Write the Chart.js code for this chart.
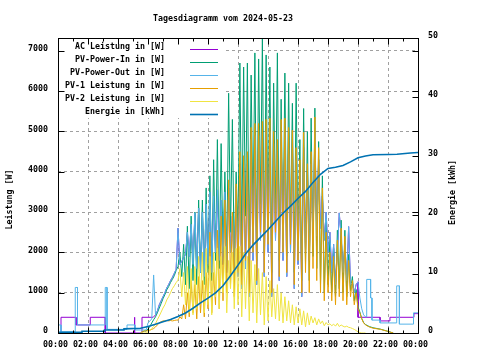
<!DOCTYPE html>
<html><head><meta charset="utf-8">
<script src="https://cdn.jsdelivr.net/npm/chart.js@4.4.1/dist/chart.umd.min.js"></script>
<style>html,body{margin:0;padding:0;background:#fff;}</style>
</head><body>
<canvas id="c" width="480" height="360"></canvas>
<script>
// ---------- text ----------
const TITLE = 'Tagesdiagramm vom 2024-05-23';
const Y_TITLE = 'Leistung [W]';
const Y2_TITLE = 'Energie [kWh]';
const seriesNames = ['AC Leistung in [W]', 'PV-Power-In in [W]', 'PV-Power-Out in [W]',
                     'PV-1 Leistung in [W]', 'PV-2 Leistung in [W]', 'Energie in [kWh]'];

// ---------- ticks ----------
const xTickValues = [0,2,4,6,8,10,12,14,16,18,20,22,24];
const xTickLabels = ['00:00','02:00','04:00','06:00','08:00','10:00','12:00','14:00','16:00','18:00','20:00','22:00','00:00'];
const yTickValues = [0,1000,2000,3000,4000,5000,6000,7000];
const y2TickValues = [0,10,20,30,40,50];
const Y_MAX = 7320, Y2_MAX = 50;

// ---------- daytime samples: 05:30 .. 20:30, every 7.5 min ----------
const DAY_START = 5.5, DAY_STEP = 0.125;
const pv2Day = [ // PV-2 Leistung [W]
  0,0,0,0,30,60,110,160,230,330,
  420,520,620,700,820,900,1000,1100,1170,1250,
  1310,1600,900,1500,700,1650,500,1600,450,1650,
  600,1900,800,2000,500,2100,700,1900,450,2000,
  900,2100,600,1900,1000,2150,500,1800,1100,2000,
  600,2100,700,2150,400,2000,600,1900,300,1800,
  500,1700,250,1600,450,1500,200,1400,300,1300,
  400,1100,350,1200,300,1000,250,900,300,800,
  250,700,200,650,250,600,200,550,150,500,
  200,420,250,380,200,350,230,300,180,260,
  200,230,180,220,170,240,160,200,170,150,
  170,140,130,110,90,60,30,10,0,0,0];
const pv1Day = [ // PV-1 Leistung [W]
  0,30,50,50,60,70,90,110,150,200,
  250,280,300,300,310,300,310,300,310,320,
  320,400,350,700,350,1000,400,1300,500,1200,
  350,1400,500,1300,400,1500,600,2500,500,1500,
  700,2550,600,2900,800,3300,1000,3800,1200,3000,
  900,3700,1500,4500,1200,4400,1800,4500,1000,5100,
  2000,5200,1300,5200,2500,5250,1500,5300,2200,5330,
  1000,5000,2500,4800,1400,5300,2000,5330,1500,5100,
  2200,5030,1200,4600,1800,4300,1000,4980,1500,4200,
  1000,4500,1600,5360,1300,4600,1000,3600,800,2500,
  1000,2000,800,1900,700,2300,900,2600,800,2400,
  700,1800,900,1300,700,1000,600,500,350,250,200];
const pvInDay = [ // PV-Power-In [W]
  0,30,50,50,100,160,250,330,400,500,
  620,730,850,950,1070,1150,1250,1330,1420,1550,
  1650,2000,1400,2200,1200,2650,1100,2900,1300,3000,
  1200,3300,1500,3300,1200,3600,1500,3900,1300,4300,
  1800,4800,1600,4700,2000,4000,1800,5950,2500,5300,
  1800,4000,2500,6700,2200,6600,2900,6700,1800,6400,
  2800,6950,1800,6800,3200,7300,2000,6900,2600,6600,
  1500,6200,2900,6950,1800,5800,2300,6450,1900,6200,
  2500,5700,1500,6200,2100,4800,1300,5570,1700,5000,
  1300,5330,1900,5580,1600,4750,1200,3900,1000,2800,
  1200,2300,1000,2100,900,2550,1100,2800,1000,2550,
  900,1950,1050,1400,800,1080,650,520,360,260,210];
const pvOutDay = [ // PV-Power-Out [W]
  75,75,75,75,250,300,350,1440,450,550,
  700,800,900,1000,1120,1200,1300,1380,1480,1580,
  2600,1700,1780,1860,1950,2500,1900,2700,1700,2980,
  1600,3100,1500,3000,1400,3200,1700,3500,1500,3400,
  2000,3550,1800,3300,1700,3500,1500,3600,2000,2900,
  1500,3600,1400,4200,1100,4100,1600,4200,900,4800,
  1800,4900,1200,4900,2300,4950,1400,5000,2000,5000,
  900,4700,2300,4500,1300,5000,1800,5000,1400,4800,
  2000,4700,1100,4300,1700,4000,900,4600,2000,4000,
  1800,4200,2200,5000,2400,4300,2600,3400,2300,3000,
  2000,2500,1500,2200,1200,2000,2980,2400,1500,2200,
  1300,2640,1200,1250,1000,1200,1270,870,600,450,400];

// ---------- sparse night / evening samples [hour, value] ----------
const pvOutNight = [[0,200],[0.2,200],[0.2,30],[1.15,30],[1.15,1130],[1.3,1130],[1.3,200],[3.15,200],
  [3.15,1130],[3.27,1130],[3.27,90],[4.6,90],[4.6,200],[5.13,200],[5.13,75],[5.5,75]];
const pvOutEvening = [[20.58,400],[20.58,1330],[20.84,1330],[20.84,870],[20.93,870],[20.93,320],
  [21.47,320],[21.47,250],[22.58,250],[22.58,1170],[22.76,1170],[22.76,220],[23.7,220],[23.7,500],[24,500]];
const acNight = [[0,0],[0.2,0],[0.2,390],[1.2,390],[1.2,200],[2.15,200],[2.15,390],[3.15,390],[3.15,0],
  [5.07,0],[5.07,390],[5.13,390],[5.13,0],[5.6,0],[5.6,390],[6.35,390]];
const acEvening = [[20.0,390],[21.47,390],[21.47,300],[22.13,300],[22.13,390],[23.73,390],[23.73,480],[24,480]];
const pv1Evening = [[20.75,150],[21,120],[21.5,90],[22,40],[22.35,0]];
const pvInEvening = [[20.75,160],[21,130],[21.5,95],[22,40],[22.35,0]];
const energy = [[0,0.1],[1.6,0.1],[1.6,0.3],[3.1,0.3],[3.1,0.5],[4.4,0.5],[4.4,0.7],[5.5,0.8],[6,1.1],
  [6.5,1.5],[7,1.9],[7.5,2.3],[8,2.8],[8.5,3.4],[9,4.2],[9.5,5.1],[10,5.9],[10.5,6.8],[11,8.0],
  [11.5,9.7],[12,11.5],[12.5,13.4],[13,14.9],[13.5,16.2],[14,17.5],[14.5,18.9],[15,20.3],[15.5,21.5],
  [16,22.8],[16.5,24.0],[17,25.5],[17.5,26.9],[18,27.9],[18.5,28.1],[19,28.4],[19.5,29.0],[20,29.7],
  [20.5,30.0],[21,30.2],[22,30.25],[22.6,30.3],[23.5,30.5],[24,30.6]];

const colors = ['#9400d3','#009e73','#56b4e9','#e69f00','#f0e442','#0072b2'];

// ---------- helpers ----------
const pairs = arr => arr.map(p => ({x: p[0], y: p[1]}));
function dayPts(vals, from = 0, to = vals.length - 1) {
  const out = [];
  for (let i = from; i <= to; i++) out.push({x: DAY_START + i * DAY_STEP, y: vals[i]});
  return out;
}
// AC power follows the inverter output during the day
const acData = pairs(acNight).concat(dayPts(pvOutDay, 8, 116), pairs(acEvening));
const seriesData = [
  acData,
  dayPts(pvInDay).concat(pairs(pvInEvening)),
  pairs(pvOutNight).concat(dayPts(pvOutDay), pairs(pvOutEvening)),
  dayPts(pv1Day).concat(pairs(pv1Evening)),
  dayPts(pv2Day),
  pairs(energy)
];

const FONT_FAMILY = '"DejaVu Sans Mono", "Liberation Mono", monospace';
const FONT_SIZE = 8.3;
const FONT = 'bold ' + FONT_SIZE + 'px ' + FONT_FAMILY;
Chart.defaults.font.family = FONT_FAMILY;
Chart.defaults.font.size = FONT_SIZE;
Chart.defaults.font.weight = 'bold';
Chart.defaults.color = '#000';

const decor = {
  id: 'decor',
  afterDatasetsDraw(chart) {
    const {ctx, chartArea: a, scales} = chart;
    const L = Math.round(a.left) + 0.5, R = Math.round(a.right) + 0.5;
    const T = Math.round(a.top) + 0.5, B = Math.round(a.bottom) + 0.5;
    ctx.save();
    // key box
    ctx.fillStyle = '#fff';
    ctx.fillRect(L + 0.5, T + 0.5, 164, 79);
    ctx.font = FONT;
    ctx.textAlign = 'right';
    ctx.textBaseline = 'middle';
    chart.data.datasets.forEach((ds, i) => {
      const ly = Math.round(a.top + 11 + 13 * i) + 0.5;
      ctx.fillStyle = '#000';
      ctx.fillText(ds.label, a.left + 107, ly - 2.5);
      ctx.strokeStyle = ds.borderColor;
      ctx.lineWidth = ds.borderWidth;
      ctx.beginPath();
      ctx.moveTo(a.left + 132, ly);
      ctx.lineTo(a.left + 160, ly);
      ctx.stroke();
    });
    // tick marks (inward) and border
    ctx.strokeStyle = '#000';
    ctx.lineWidth = 1;
    ctx.beginPath();
    for (let h = 0; h <= 24; h++) {
      const px = Math.round(scales.x.getPixelForValue(h)) + 0.5;
      const len = h % 2 ? 3 : 6;
      ctx.moveTo(px, B); ctx.lineTo(px, B - len);
      ctx.moveTo(px, T); ctx.lineTo(px, T + len);
    }
    yTickValues.forEach(v => {
      const py = Math.round(scales.y.getPixelForValue(v)) + 0.5;
      ctx.moveTo(L, py); ctx.lineTo(L + 6, py);
      ctx.moveTo(R, py); ctx.lineTo(R - 6, py);
    });
    y2TickValues.forEach(v => {
      const py = Math.round(scales.y2.getPixelForValue(v)) + 0.5;
      ctx.moveTo(R, py); ctx.lineTo(R - 6, py);
    });
    ctx.stroke();
    ctx.strokeRect(L, T, R - L, B - T);
    ctx.restore();
  },
  afterDraw(chart) {
    const {ctx, chartArea: a} = chart;
    ctx.save();
    ctx.font = FONT;
    ctx.fillStyle = '#000';
    ctx.textAlign = 'center';
    ctx.textBaseline = 'middle';
    ctx.fillText(TITLE, 223, 18.5);
    ctx.save();
    ctx.translate(10, (a.top + a.bottom) / 2 + 14);
    ctx.rotate(-Math.PI / 2);
    ctx.fillText(Y_TITLE, 0, 0);
    ctx.restore();
    ctx.save();
    ctx.translate(453, (a.top + a.bottom) / 2 + 7);
    ctx.rotate(-Math.PI / 2);
    ctx.fillText(Y2_TITLE, 0, 0);
    ctx.restore();
    ctx.restore();
  }
};

const orders = [5, 4, 3, 2, 1, 0];
new Chart(document.getElementById('c'), {
  type: 'line',
  data: {
    datasets: seriesNames.map((name, i) => ({
      label: name,
      data: seriesData[i],
      borderColor: colors[i],
      backgroundColor: colors[i],
      borderWidth: i === 5 ? 1.6 : 1,
      pointRadius: 0,
      tension: 0,
      fill: false,
      yAxisID: i === 5 ? 'y2' : 'y',
      order: orders[i]
    }))
  },
  options: {
    responsive: false,
    animation: false,
    devicePixelRatio: 1,
    events: [],
    parsing: false,
    layout: {padding: {top: 38, left: 0, right: 0, bottom: 0}},
    plugins: {legend: {display: false}, tooltip: {enabled: false}, title: {display: false}},
    scales: {
      x: {
        type: 'linear', min: 0, max: 24,
        afterFit: s => { s.height = 27; },
        afterBuildTicks: s => { s.ticks = xTickValues.map(v => ({value: v})); },
        ticks: {autoSkip: false, maxRotation: 0, padding: 7, labelOffset: -2.5,
                callback: (v, i) => xTickLabels[i]},
        grid: {color: '#a0a0a0', lineWidth: 1, drawTicks: false},
        border: {display: false, dash: [3, 3]}
      },
      y: {
        type: 'linear', position: 'left', min: 0, max: Y_MAX,
        afterFit: s => { s.width = 58; },
        afterBuildTicks: s => { s.ticks = yTickValues.map(v => ({value: v})); },
        ticks: {padding: 10, labelOffset: -2, callback: v => String(v)},
        grid: {color: '#a0a0a0', lineWidth: 1, drawTicks: false},
        border: {display: false, dash: [3, 3]}
      },
      y2: {
        type: 'linear', position: 'right', min: 0, max: Y2_MAX,
        afterFit: s => { s.width = 62; },
        afterBuildTicks: s => { s.ticks = y2TickValues.map(v => ({value: v})); },
        ticks: {padding: 10, labelOffset: -2, callback: v => String(v)},
        grid: {drawOnChartArea: false, drawTicks: false},
        border: {display: false}
      }
    }
  },
  plugins: [decor]
});
</script>
</body></html>
